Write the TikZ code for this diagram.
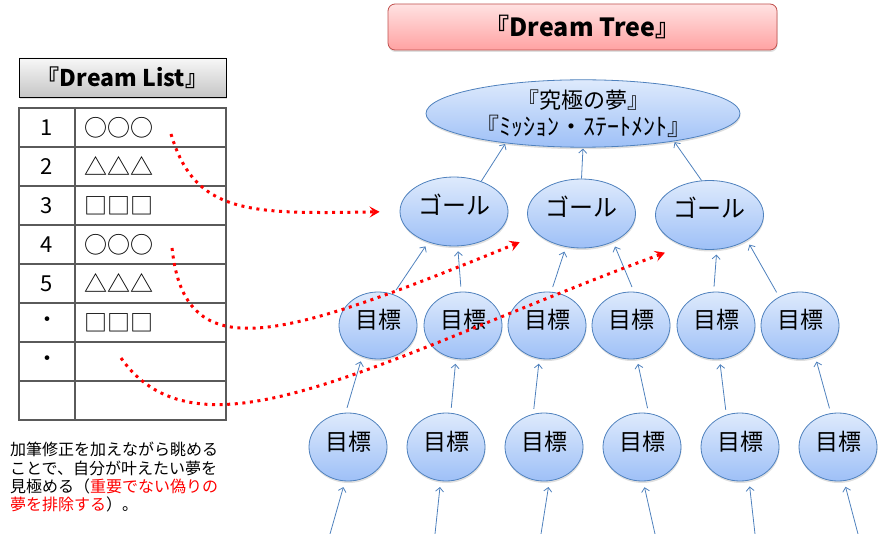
\documentclass[tikz,border=0pt]{standalone}
\usepackage{fontspec}
\setmainfont{Noto Sans CJK JP}
\usetikzlibrary{arrows.meta,shapes.geometric,shadows}
\newcommand{\fsz}[1]{\fontsize{#1}{#1}\selectfont}
\definecolor{treeblue}{RGB}{79,129,189}
\definecolor{balltop}{RGB}{222,234,252}
\definecolor{ballbot}{RGB}{158,192,247}
\definecolor{pinktop}{RGB}{255,226,226}
\definecolor{pinkbot}{RGB}{255,162,162}
\definecolor{pinkline}{RGB}{192,80,77}
\definecolor{gridgray}{RGB}{90,90,90}

\begin{document}
\begin{tikzpicture}[x=1pt,y=-1pt,font=\fsz{22},
  soft/.style={drop shadow={opacity=.25,shadow xshift=.5pt,shadow yshift=-2pt}},
  ball/.style={ellipse,draw=treeblue,line width=.8pt,top color=balltop,bottom color=ballbot,inner sep=0pt,soft},
  word/.style={ball,text height=14pt,text depth=8pt},
  up/.style={treeblue,line width=.8pt,-{Straight Barb[length=4pt,width=8pt]}},
  wish/.style={red,line width=3pt,dash pattern=on 3pt off 4.6pt,shorten >=20pt,-{Stealth[length=10pt,width=11pt,inset=4pt]}}]
\useasboundingbox (0,0) rectangle (882,534);
% headers
\node[draw=pinkline,line width=.8pt,rounded corners=7pt,top color=pinktop,bottom color=pinkbot,minimum width=389pt,minimum height=46pt,soft,font=\fsz{25}\bfseries] (tree) at (582.5,27) {『Dream Tree』};
\node[draw=black,line width=.8pt,top color=gray!6,bottom color=gray!45,minimum width=207pt,minimum height=39pt,soft,font=\fsz{23}\bfseries] (list) at (122.5,77.5) {『Dream List』};
% list
\draw[gridgray,line width=1.2pt] (19,108) rectangle (226,420) (75,108) -- (75,420);
\foreach \y in {147,186,...,381} \draw[gridgray,line width=1.2pt] (19,\y) -- (226,\y);
\foreach \i/\n/\t in {1/1/○○○,2/2/△△△,3/3/□□□,4/4/○○○,5/5/△△△,6/・/□□□,7/・/{},8/{}/{}}{
  \node (num\i) at (47,88.5+39*\i) {\n};
  \node[anchor=west,inner sep=0pt,font=\fsz{23}] (item\i) at (84,88.5+39*\i) {\t};}
\node[anchor=north west,inner sep=0pt,align=left,font=\fontsize{16}{18.3}\selectfont] (note) at (10,442) {加筆修正を加えながら眺める\\ことで、自分が叶えたい夢を\\見極める（\textcolor{red}{重要でない偽りの}\\\textcolor{red}{夢を排除する}）。};
% tree
\node[ball,minimum width=314pt,minimum height=67pt,align=center,font=\fontsize{22}{27}\selectfont] (top) at (583,113.5) {『究極の夢』\\{\fsz{24}『ﾐｯｼｮﾝ・ｽﾃｰﾄﾒﾝﾄ』}};
\foreach \i/\x/\y in {1/454/211.5,2/581.5/213.5,3/709.5/215}
  \node[word,minimum width=108pt,minimum height=69pt,font=\fsz{24}] (g\i) at (\x,\y) {ゴール};
\foreach \x [count=\i] in {378,463,547,631,716,800}
  \node[word,minimum width=78pt,minimum height=67pt,font=\fsz{23}] (m\i) at (\x,325.5) {目標};
\foreach \x [count=\i] in {348,446,544,642,740,838}
  \node[word,minimum width=78pt,minimum height=68pt,font=\fsz{23}] (b\i) at (\x,447) {目標};
\foreach \a/\p/\b/\q in {g1/48/top/201,g2/90/top/270,g3/103/top/-17}
  \draw[up,shorten >=1pt] (\a.\p) -- (\b.\q);
\foreach \a/\p/\b/\q in {m1/64/g1/-130,m2/93/g1/-84,m3/83/g2/-115,m4/85/g2/-42,m5/94/g3/-78,m6/126/g3/-34,b1/94/m1/-117,b2/82/m2/-102,b3/108/m3/-103,b4/79/m4/-80,b5/113/m5/-84,b6/102/m6/-64}
  \draw[up,shorten <=5pt,shorten >=5pt] (\a.\p) -- (\b.\q);
\foreach \x/\q [count=\i] in {330/-95,435/-99,541/-81,655/-88,755/-75,858/-80}{
  \coordinate (root\i) at (\x,534);
  \draw[up,shorten >=6pt] (root\i) -- (b\i.\q);}
% picks from the list
\coordinate (s1) at (171,134);
\coordinate (s2) at (172,248);
\coordinate (s3) at (121,358);
\draw[wish] (s1) .. controls (195,215) and (250,214) .. (g1.west);
\draw[wish] (s2) .. controls (185,370) and (280,340) .. (g2.206);
\draw[wish] (s3) .. controls (200,470) and (380,358) .. (g3.230);
\end{tikzpicture}
\end{document}
